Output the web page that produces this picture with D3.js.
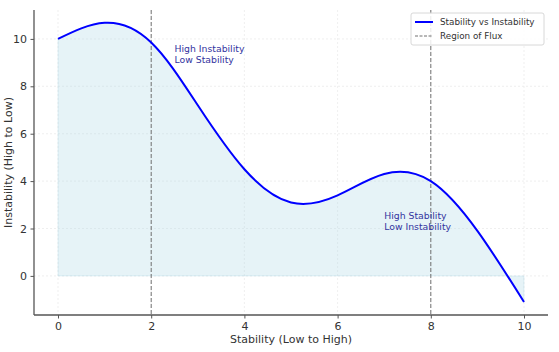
<!DOCTYPE html>
<html><head><meta charset="utf-8">
<script src="https://cdn.jsdelivr.net/npm/d3@7"></script>
<style>body{margin:0;background:#fff}svg{display:block;font-family:"DejaVu Sans",sans-serif}</style>
</head><body><svg id="c" width="559" height="352"></svg>
<script>
const xs = [0,1,2,3,4,5,6,7,8,9,10];
const ys = [10,10.68,9.85,7.2,4.5,3.1,3.4,4.3,4.0,1.9,-1.1];
const xTicks = [0,2,4,6,8,10];
const yTicks = [0,2,4,6,8,10];
const fluxLines = [2,8];
const notes = [
  {x:2.5, y:9.45, lines:["High Instability","Low Stability"]},
  {x:7.0, y:2.42, lines:["High Stability","Low Instability"]}
];
const legendItems = ["Stability vs Instability","Region of Flux"];

const svg = d3.select("#c");
const L=34,R=548,T=10,B=315;
const x = d3.scaleLinear().domain([-0.515,10.515]).range([L,R]);
const y = d3.scaleLinear().domain([-1.65,11.22]).range([B,T]);
const data = xs.map((v,i)=>({x:v,y:ys[i]}));

// grid
const g = svg.append("g");
g.selectAll(".gx").data(xTicks).join("line").attr("x1",d=>x(d)).attr("x2",d=>x(d)).attr("y1",T).attr("y2",B)
 .attr("stroke","#ebebeb").attr("stroke-width",0.8).attr("stroke-dasharray","2,2");
g.selectAll(".gy").data(yTicks).join("line").attr("y1",d=>y(d)).attr("y2",d=>y(d)).attr("x1",L).attr("x2",R)
 .attr("stroke","#ebebeb").attr("stroke-width",0.8).attr("stroke-dasharray","2,2");

// area
const area = d3.area().x(d=>x(d.x)).y0(y(0)).y1(d=>y(d.y)).curve(d3.curveNatural);
svg.append("path").datum(data).attr("d",area).attr("fill","#add8e6").attr("fill-opacity",0.3)
 .attr("stroke","#add8e6").attr("stroke-opacity",0.3).attr("stroke-width",1);

// flux lines
svg.selectAll(".flux").data(fluxLines).join("line").attr("x1",d=>x(d)).attr("x2",d=>x(d)).attr("y1",T).attr("y2",B)
 .attr("stroke","#707070").attr("stroke-width",1).attr("stroke-dasharray","4,2");

// line
const line = d3.line().x(d=>x(d.x)).y(d=>y(d.y)).curve(d3.curveNatural);
svg.append("path").datum(data).attr("d",line).attr("fill","none").attr("stroke","#0000ff").attr("stroke-width",2);

// axes
const xAxis = svg.append("g").attr("transform",`translate(0,${B})`).call(d3.axisBottom(x).tickValues(xTicks).tickSize(3.5).tickPadding(3.5));
const yAxis = svg.append("g").attr("transform",`translate(${L},0)`).call(d3.axisLeft(y).tickValues(yTicks).tickSize(3.5).tickPadding(3.5));
[xAxis,yAxis].forEach(a=>{
  a.select(".domain").attr("stroke","#555").attr("stroke-width",1.3);
  a.selectAll(".tick line").attr("stroke","#555");
  a.selectAll(".tick text").attr("fill","#333").style("font-size","11px").style("font-family","DejaVu Sans");
});
xAxis.select(".domain").attr("d",`M${L},0H${R}`);
yAxis.select(".domain").attr("d",`M0,${T}V${B}`);

// labels
svg.append("text").attr("x",(L+R)/2).attr("y",343).attr("text-anchor","middle").attr("fill","#333")
 .style("font-size","11px").text("Stability (Low to High)");
svg.append("text").attr("transform",`translate(12,${(T+B)/2}) rotate(-90)`).attr("text-anchor","middle").attr("fill","#333")
 .style("font-size","11px").text("Instability (High to Low)");

// notes
notes.forEach(n=>{
  const t = svg.append("text").attr("x",x(n.x)).attr("y",y(n.y)).attr("fill","#3333a0").style("font-size","9.3px");
  n.lines.forEach((s,i)=>t.append("tspan").attr("x",x(n.x)).attr("dy",i?11:0).text(s));
});

// legend
const lg = svg.append("g").attr("transform","translate(411,13)");
lg.append("rect").attr("width",133).attr("height",32).attr("rx",2).attr("fill","#fff").attr("fill-opacity",0.85).attr("stroke","#d8d8d8");
legendItems.forEach((s,i)=>{
  const yy = 9+i*14;
  lg.append("line").attr("x1",4).attr("x2",22).attr("y1",yy).attr("y2",yy)
    .attr("stroke",i?"#707070":"#0000ff").attr("stroke-width",i?1:2).attr("stroke-dasharray",i?"3,1.5":null);
  lg.append("text").attr("x",29).attr("y",yy+3).attr("fill","#333").style("font-size","8.8px").text(s);
});
</script></body></html>
